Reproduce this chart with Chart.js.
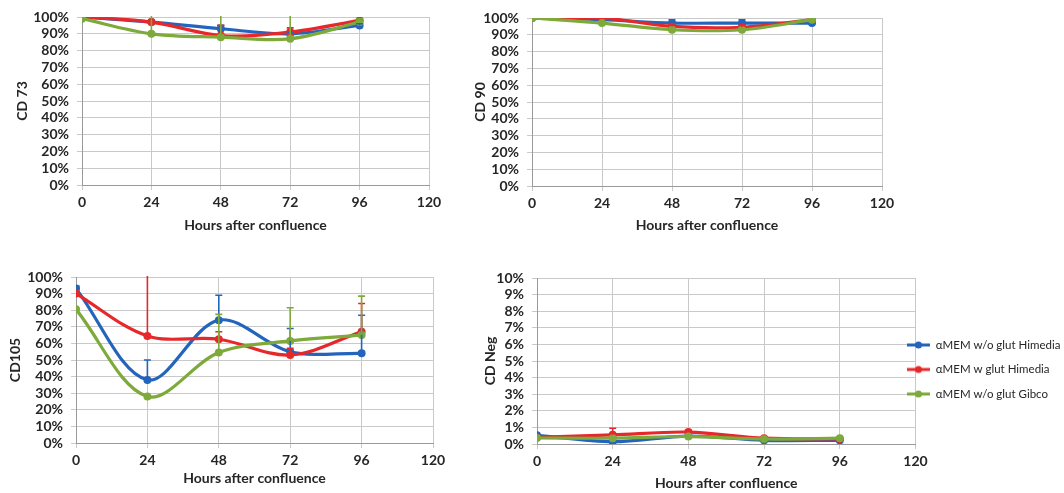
<!DOCTYPE html>
<html><head><meta charset="utf-8">
<script src="https://cdn.jsdelivr.net/npm/chart.js@4.4.1/dist/chart.umd.min.js"></script>
<style>
html,body{margin:0;padding:0;background:#fff;width:1064px;height:493px;overflow:hidden;}
canvas{position:absolute;}
</style></head><body>
<canvas id="c1" width="460" height="240" style="left:0px;top:0px"></canvas>
<canvas id="c2" width="430" height="240" style="left:470px;top:0px"></canvas>
<canvas id="c3" width="460" height="238" style="left:0px;top:255px"></canvas>
<canvas id="c4" width="594" height="238" style="left:470px;top:255px"></canvas>
<script>
// ---- data ----
const hours = [0, 24, 48, 72, 96];
const xTicks = [0, 24, 48, 72, 96, 120];
const seriesNames = ['αMEM w/o glut Himedia', 'αMEM w glut Himedia', 'αMEM w/o glut Gibco'];
const seriesColors = ['#2364BD', '#E7282B', '#7DAA3B'];

const cd73Blue  = [100, 97, 93, 90, 95];
const cd73Red   = [100, 97, 89, 91, 98];
const cd73Green = [99, 90, 88, 87, 97];
const cd73BlueErr  = [0, 1, 2, 1, 1];
const cd73RedErr   = [0, 1, 6, 2.5, 1];
const cd73GreenErr = [0, 12, 14, 15, 2];

const cd90Blue  = [100, 99, 97, 97, 97];
const cd90Red   = [100, 100, 95, 94.5, 99];
const cd90Green = [100, 97, 93, 93, 99];
const cd90BlueErr  = [0, 0, 2, 2, 0];
const cd90RedErr   = [0, 0, 1, 1, 0];
const cd90GreenErr = [0, 0, 1, 1, 0];

const cd105Blue  = [93, 38, 74, 55, 54];
const cd105Red   = [90, 64.5, 62.5, 53, 67];
const cd105Green = [80.5, 28, 54.5, 61.5, 65];
const cd105BlueErr  = [1.5, 12, 15, 14, 23];
const cd105RedErr   = [0, 40, 4.5, 4, 17];
const cd105GreenErr = [0, 0, 23, 20, 23.5];

const cdNegBlue  = [0.52, 0.14, 0.48, 0.22, 0.22];
const cdNegRed   = [0.4, 0.55, 0.72, 0.35, 0.3];
const cdNegGreen = [0.36, 0.35, 0.45, 0.3, 0.35];
const cdNegBlueErr  = [0, 0, 0, 0, 0];
const cdNegRedErr   = [0, 0.4, 0.1, 0, 0];
const cdNegGreenErr = [0, 0, 0, 0, 0];

const FONT = 'Lato, "Open Sans", "DejaVu Sans", sans-serif';
const TEXT = '#262626';
const GRID = '#c9c9c9';

function pts(vals) { return hours.map((h, i) => ({x: h, y: vals[i]})); }

const errorBarPlugin = {
  id: 'errorBars',
  afterDatasetsDraw(chart) {
    const {ctx, chartArea, scales: {x, y}} = chart;
    ctx.save();
    ctx.beginPath();
    ctx.rect(chartArea.left, chartArea.top - 1, chartArea.right - chartArea.left, chartArea.bottom - chartArea.top + 1);
    ctx.clip();
    const metas = chart.getSortedVisibleDatasetMetas().slice().reverse();
    metas.forEach(meta => {
      const ds = chart.data.datasets[meta.index];
      const errs = ds.errors || [];
      ctx.strokeStyle = ds.borderColor;
      ctx.lineWidth = 1.6;
      ds.data.forEach((p, i) => {
        const e = errs[i];
        if (!e) return;
        const px = x.getPixelForValue(p.x);
        const y0 = y.getPixelForValue(p.y);
        const y1 = y.getPixelForValue(p.y + e);
        ctx.beginPath();
        ctx.moveTo(px, y0); ctx.lineTo(px, y1);
        ctx.moveTo(px - 3.5, y1); ctx.lineTo(px + 3.5, y1);
        ctx.stroke();
      });
    });
    ctx.restore();
  }
};

function makeLegendIcon(color) {
  const c = document.createElement('canvas');
  c.width = 23; c.height = 10;
  const g = c.getContext('2d');
  g.strokeStyle = color; g.lineWidth = 3;
  g.beginPath(); g.moveTo(0, 5); g.lineTo(23, 5); g.stroke();
  g.fillStyle = color;
  g.beginPath(); g.arc(11.5, 5, 3.5, 0, Math.PI * 2); g.fill();
  return c;
}
const legendIcons = seriesColors.map(makeLegendIcon);

function makeChart(id, cfg) {
  const datasets = cfg.values.map((vals, i) => ({
    label: seriesNames[i],
    data: pts(vals),
    errors: cfg.errors[i],
    borderColor: seriesColors[i],
    backgroundColor: seriesColors[i],
    borderWidth: 3.2,
    pointRadius: 4,
    pointHoverRadius: 4,
    pointBorderWidth: 0,
    tension: 0.34,
    order: 2 - i
  }));
  const legendOpts = cfg.legend ? {
    display: true,
    position: 'right',
    labels: {
      usePointStyle: true,
      pointStyleWidth: 23,
      padding: 13,
      color: TEXT,
      font: {family: FONT, size: 11.5},
      generateLabels(chart) {
        const items = Chart.defaults.plugins.legend.labels.generateLabels(chart);
        items.sort((a, b) => a.datasetIndex - b.datasetIndex);
        items.forEach(it => { it.pointStyle = legendIcons[it.datasetIndex]; });
        return items;
      }
    }
  } : {display: false};
  return new Chart(document.getElementById(id), {
    type: 'line',
    data: {datasets},
    plugins: [errorBarPlugin].concat(cfg.extraPlugins || []),
    options: {
      responsive: false,
      animation: false,
      devicePixelRatio: 1,
      layout: {padding: cfg.padding},
      plugins: {legend: legendOpts, tooltip: {enabled: false}},
      scales: {
        x: {
          type: 'linear', min: 0, max: 120,
          afterBuildTicks(s) { s.ticks = xTicks.map(v => ({value: v})); },
          afterFit(s) { s.height = cfg.xHeight; },
          grid: {color: GRID, lineWidth: 1, tickLength: 5, drawTicks: true},
          border: {color: '#9a9a9a', width: 1},
          ticks: {color: TEXT, font: {family: FONT, size: 14, weight: 'bold'}, padding: 4, maxRotation: 0, autoSkip: false},
          title: {display: true, text: 'Hours after confluence', color: TEXT,
                  font: {family: FONT, size: 14, weight: 'bold'}, padding: {top: 0, bottom: cfg.xTitlePad}}
        },
        y: {
          min: 0, max: cfg.yMax,
          afterFit(s) { s.width = cfg.yWidth; },
          grid: {color: GRID, lineWidth: 1, tickLength: 5},
          border: {color: '#9a9a9a', width: 1},
          ticks: {stepSize: cfg.yStep, autoSkip: false, color: TEXT, font: {family: FONT, size: 14, weight: 'bold'}, padding: 8,
                  callback: v => v + '%'},
          title: {display: true, text: cfg.yTitle, color: TEXT,
                  font: {family: FONT, size: 14, weight: 'bold'}, padding: {top: cfg.yTitlePad, bottom: 0}}
        }
      }
    }
  });
}

makeChart('c1', {
  values: [cd73Blue, cd73Red, cd73Green],
  errors: [cd73BlueErr, cd73RedErr, cd73GreenErr],
  yMax: 100, yStep: 10, yTitle: 'CD 73',
  padding: {left: 0, top: 17, right: 31, bottom: 0},
  yWidth: 82, xHeight: 55, xTitlePad: 6.6, yTitlePad: 13.6
});
makeChart('c2', {
  values: [cd90Blue, cd90Red, cd90Green],
  errors: [cd90BlueErr, cd90RedErr, cd90GreenErr],
  yMax: 100, yStep: 10, yTitle: 'CD 90',
  padding: {left: 0, top: 18, right: 18, bottom: 0},
  yWidth: 62, xHeight: 54, xTitlePad: 6.6, yTitlePad: 1.6
});
makeChart('c3', {
  values: [cd105Blue, cd105Red, cd105Green],
  errors: [cd105BlueErr, cd105RedErr, cd105GreenErr],
  yMax: 100, yStep: 10, yTitle: 'CD105',
  padding: {left: 0, top: 22, right: 27, bottom: 0},
  yWidth: 76, xHeight: 50, xTitlePad: 6.6, yTitlePad: 6.6
});

const legendShift = {
  id: 'legendShift',
  afterLayout(chart) {
    const lg = chart.legend;
    if (!lg) return;
    const dx = 907 - 470 - (lg.left + 13);
    lg.left += dx;
    lg.right = chart.width;
    lg.width = lg.right - lg.left;
    lg.top -= 16; lg.bottom -= 16;
  }
};
makeChart('c4', {
  values: [cdNegBlue, cdNegRed, cdNegGreen],
  errors: [cdNegBlueErr, cdNegRedErr, cdNegGreenErr],
  yMax: 10, yStep: 1, yTitle: 'CD Neg',
  padding: {left: 0, top: 23, right: 0, bottom: 0},
  yWidth: 67, xHeight: 49, xTitlePad: 1.5, yTitlePad: 11.6,
  legend: true, extraPlugins: [legendShift]
});
</script>
</body></html>
